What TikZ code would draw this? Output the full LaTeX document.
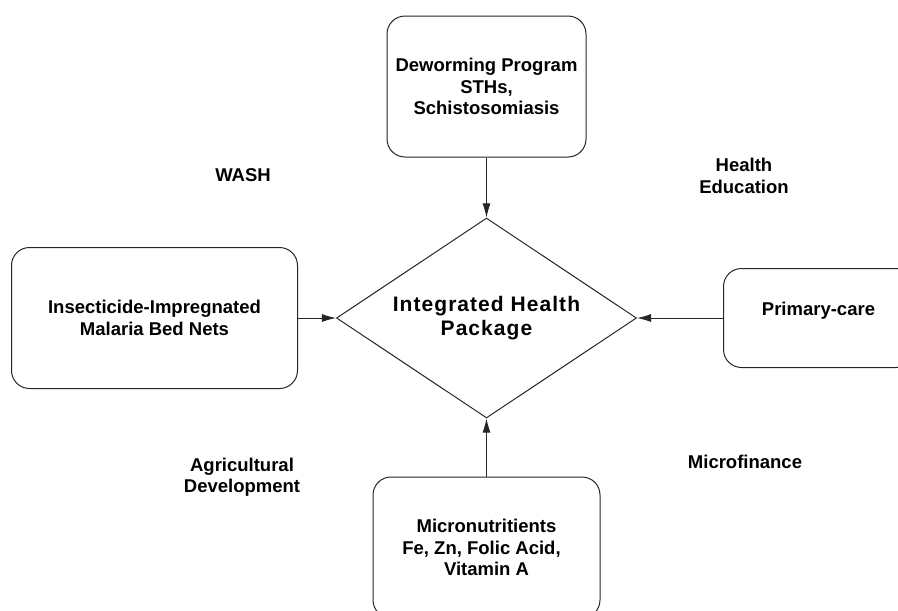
\documentclass[tikz,border=0pt]{standalone}
\usepackage{fontspec}
\setmainfont{Liberation Sans}
\newfontfamily\pkgfont[LetterSpace=5]{Liberation Sans}
\usepackage{tikz}
\usetikzlibrary{shapes.geometric,positioning,arrows.meta}

\begin{document}
\begin{tikzpicture}[x=1pt, y=-1pt, inner sep=0pt, font=\fontsize{18.5}{21.5}\selectfont\bfseries]
    \tikzstyle{prog}=[rectangle, rounded corners=18pt, draw=black!85, line width=1pt, align=center, text=black]
    \tikzstyle{pkg}=[diamond, aspect=1.5, draw=black!85, line width=1pt, minimum width=300pt, minimum height=200pt, align=center, font=\pkgfont\fontsize{21}{24.5}\selectfont\bfseries]
    \tikzstyle{lbl}=[align=center, text=black]
    \tikzstyle{feed}=[-{Latex[length=14pt,width=8pt]}, draw=black!85, line width=1pt]

    \path[use as bounding box, clip] (0,0) rectangle (898,611);

    \node[pkg] (IHP) at (486.5,318) {Integrated Health\\Package};
    \node[prog, minimum width=199pt, minimum height=141pt] (DW) [above=60pt of IHP] {Deworming Program\\STHs,\\Schistosomiasis};
    \node[prog, minimum width=286pt, minimum height=141pt] (BN) [left=38pt of IHP] {Insecticide-Impregnated\\Malaria Bed Nets};
    \node[prog, minimum width=190pt, minimum height=99pt, text depth=19pt] (PC) [right=86pt of IHP] {Primary-care};
    \node[prog, minimum width=227pt, minimum height=141pt] (MN) [below=58pt of IHP] {Micronutritients\\\mbox{Fe, Zn, Folic Acid,\hspace{10pt}}\\Vitamin A};

    \node[lbl] (WASH) at (243,175) {WASH};
    \node[lbl] (HE) at (744,176) {Health\\Education};
    \node[lbl] (AD) at (242,477) {Agricultural\\Development};
    \node[lbl] (MF) at (745,462) {Microfinance};

    \draw[feed] (DW) to (IHP);
    \draw[feed] (BN) to (IHP);
    \draw[feed] (PC) to (IHP);
    \draw[feed] (MN) to (IHP);
\end{tikzpicture}
\end{document}
